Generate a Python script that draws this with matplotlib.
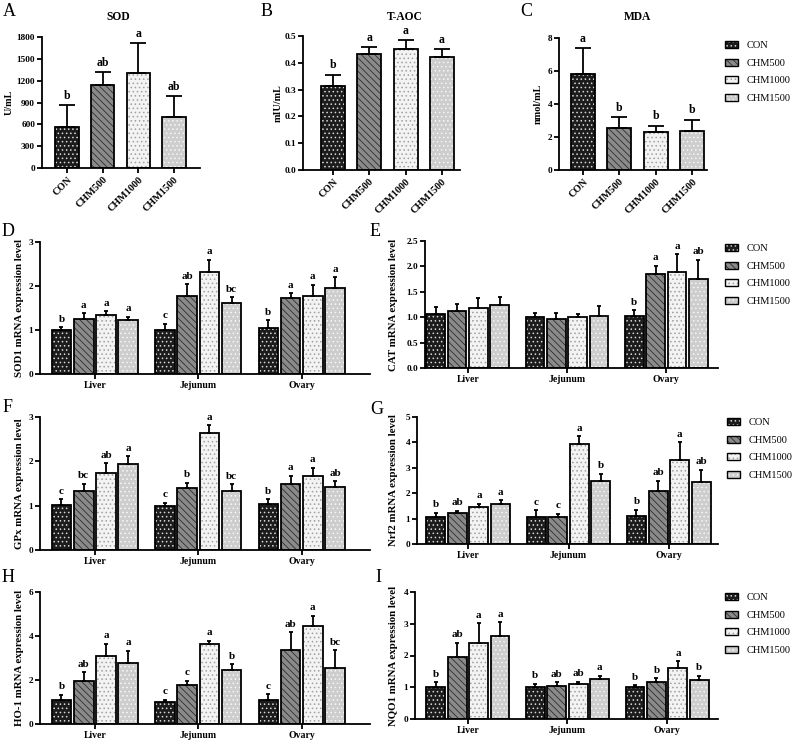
import numpy as np
import matplotlib
matplotlib.use("Agg")
import matplotlib.pyplot as plt
from matplotlib.patches import Patch
from matplotlib.legend_handler import HandlerTuple
from matplotlib.ticker import FormatStrFormatter

plt.rcParams['font.family'] = 'Liberation Serif'
plt.rcParams['font.weight'] = 'bold'
plt.rcParams['hatch.linewidth'] = 0.6

# Data =================================================
groups = ['CON', 'CHM500', 'CHM1000', 'CHM1500']
tissues = ['Liver', 'Jejunum', 'Ovary']

# serum indices (mean, SD)
sod_mean = [570, 1145, 1305, 705]
sod_sd = [290, 172, 410, 282]
sod_let = ['b', 'ab', 'a', 'ab']

taoc_mean = [0.312, 0.432, 0.450, 0.422]
taoc_sd = [0.044, 0.027, 0.035, 0.029]
taoc_let = ['b', 'a', 'a', 'a']

mda_mean = [5.83, 2.53, 2.29, 2.35]
mda_sd = [1.56, 0.67, 0.38, 0.69]
mda_let = ['a', 'b', 'b', 'b']

# mRNA levels, rows = Liver, Jejunum, Ovary
sod1_mean = [[1.00, 1.25, 1.33, 1.23], [1.01, 1.78, 2.31, 1.61], [1.05, 1.73, 1.78, 1.96]]
sod1_sd = [[0.06, 0.13, 0.10, 0.07], [0.13, 0.26, 0.29, 0.14], [0.17, 0.10, 0.25, 0.24]]
sod1_let = [['b', 'a', 'a', 'a'], ['c', 'ab', 'a', 'bc'], ['b', 'a', 'a', 'a']]

cat_mean = [[1.07, 1.13, 1.18, 1.24], [1.01, 0.96, 0.995, 1.03], [1.02, 1.86, 1.88, 1.75]]
cat_sd = [[0.14, 0.13, 0.19, 0.15], [0.08, 0.12, 0.075, 0.20], [0.12, 0.15, 0.36, 0.38]]
cat_let = [['', '', '', ''], ['', '', '', ''], ['b', 'a', 'a', 'ab']]

gpx_mean = [[1.025, 1.33, 1.73, 1.93], [0.995, 1.39, 2.64, 1.32], [1.04, 1.50, 1.67, 1.41]]
gpx_sd = [[0.12, 0.16, 0.23, 0.18], [0.075, 0.13, 0.17, 0.16], [0.105, 0.17, 0.19, 0.14]]
gpx_let = [['c', 'bc', 'ab', 'a'], ['c', 'b', 'a', 'bc'], ['b', 'a', 'a', 'ab']]

nrf2_mean = [[1.07, 1.22, 1.44, 1.57], [1.07, 1.05, 3.94, 2.50], [1.10, 2.09, 3.31, 2.46]]
nrf2_sd = [[0.16, 0.09, 0.14, 0.16], [0.25, 0.15, 0.31, 0.27], [0.24, 0.40, 0.70, 0.46]]
nrf2_let = [['b', 'ab', 'a', 'a'], ['c', 'c', 'a', 'b'], ['b', 'ab', 'a', 'ab']]

ho1_mean = [[1.08, 1.97, 3.08, 2.76], [1.00, 1.76, 3.64, 2.44], [1.08, 3.35, 4.47, 2.53]]
ho1_sd = [[0.25, 0.38, 0.57, 0.57], [0.11, 0.21, 0.15, 0.27], [0.28, 0.82, 0.45, 0.82]]
ho1_let = [['b', 'ab', 'a', 'a'], ['c', 'c', 'a', 'b'], ['c', 'ab', 'a', 'bc']]

nqo1_mean = [[1.02, 1.95, 2.39, 2.60], [1.01, 1.05, 1.09, 1.25], [1.00, 1.18, 1.62, 1.22]]
nqo1_sd = [[0.13, 0.45, 0.63, 0.45], [0.10, 0.10, 0.09, 0.12], [0.07, 0.10, 0.20, 0.15]]
nqo1_let = [['b', 'ab', 'a', 'a'], ['b', 'ab', 'ab', 'a'], ['b', 'b', 'a', 'b']]

# Styles ===============================================
fills = ['#1c1c1c', '#8a8a8a', '#f3f3f3', '#cdcdcd']
hatch_cols = ['#d8d8d8', '#2e2e2e', '#a0a0a0', '#f6f6f6']
hatches = ['....', '\\\\\\\\\\', '....', '....']
LW = 1.3

W, H = 795, 745
fig = plt.figure(figsize=(W / 100, H / 100), dpi=100)


def px_axes(l, t, r, b):
    return fig.add_axes([l / W, 1 - b / H, (r - l) / W, (b - t) / H])


def style(ax, ylim, ticks, fmt, ylabel, lab_right, l, r, ylab_size):
    for s in ['top', 'right']:
        ax.spines[s].set_visible(False)
    for s in ['left', 'bottom']:
        ax.spines[s].set_linewidth(LW)
    ax.set_ylim(*ylim)
    ax.set_yticks(ticks)
    ax.yaxis.set_major_formatter(FormatStrFormatter(fmt))
    ax.tick_params(width=LW, length=3.5, pad=1.5)
    ax.tick_params(axis='y', labelsize=6.7)
    ax.set_ylabel(ylabel, fontsize=ylab_size, fontweight='bold')
    ax.yaxis.set_label_coords((lab_right - l) / (r - l), 0.5)


def bars(ax, x, means, sds, i, width, lets, fs):
    means = np.asarray(means)
    sds = np.asarray(sds)
    ax.bar(x, means, width, color=fills[i], hatch=hatches[i], edgecolor=hatch_cols[i],
           linewidth=0, zorder=2)
    ax.bar(x, means, width, fill=False, edgecolor='black', linewidth=LW, zorder=3)
    ax.errorbar(x, means, yerr=[np.zeros_like(sds), sds], fmt='none', ecolor='black',
                elinewidth=LW, capsize=width * 9, capthick=LW, zorder=3)
    for xi, m, s, t in zip(np.atleast_1d(x), means, sds, lets):
        if t:
            ax.annotate(t, (xi, m + s), xytext=(0, 2.5), textcoords='offset points',
                        ha='center', va='bottom', fontsize=fs, fontweight='bold')


# Top row: serum indices ===============================
top_panels = [
    ('A', 'SOD', 'U/mL', sod_mean, sod_sd, sod_let, (0, 1800), np.arange(0, 1801, 300), '%d',
     (42, 37, 200, 168), (-0.70, 3.73), 14, 9, 118),
    ('B', 'T-AOC', 'mIU/mL', taoc_mean, taoc_sd, taoc_let, (0, 0.5), np.arange(0, 0.51, 0.1), '%.1f',
     (303, 36, 460, 170), (-0.83, 3.5), 283, 267, 405),
    ('C', 'MDA', 'nmol/mL', mda_mean, mda_sd, mda_let, (0, 8), np.arange(0, 9, 2), '%d',
     (559, 38, 707, 170), (-0.66, 3.41), 543, 526, 637),
]

for letter, title, ylab, mean, sd, lets, ylim, ticks, fmt, box, xlim, labr, lx, tx in top_panels:
    l, t, r, b = box
    ax = px_axes(l, t, r, b)
    x = np.arange(len(groups))
    for i in range(len(groups)):
        bars(ax, x[i:i + 1], mean[i:i + 1], sd[i:i + 1], i, 0.66, lets[i:i + 1], 8.5)
    ax.set_xlim(*xlim)
    ax.set_xticks(x)
    ax.set_xticklabels(groups, rotation=45, ha='right', rotation_mode='anchor', fontsize=7.3)
    style(ax, ylim, ticks, fmt, ylab, labr, l, r, 7.3)
    fig.text(lx / W, 1 - 12 / H, letter, fontsize=13, fontweight='normal', ha='center', va='center')
    fig.text(tx / W, 1 - 17 / H, title, fontsize=8.3, fontweight='bold', ha='center', va='center')
    if letter == 'C':
        leg_ax = ax

# Gene panels ==========================================
gene_panels = [
    ('D', 'SOD1 mRNA expression level', sod1_mean, sod1_sd, sod1_let, (0, 3), np.arange(0, 4), '%d',
     (40, 242, 370, 374), (-0.53, 2.66), 24, (8, 231)),
    ('E', 'CAT mRNA expression level', cat_mean, cat_sd, cat_let, (0, 2.5), np.arange(0, 2.51, 0.5), '%.1f',
     (425, 241, 718, 368), (-0.43, 2.52), 398, (375, 231)),
    ('F', 'GPx mRNA expression level', gpx_mean, gpx_sd, gpx_let, (0, 3), np.arange(0, 4), '%d',
     (40, 417, 370, 550), (-0.53, 2.66), 24, (8, 408)),
    ('G', 'Nrf2 mRNA expression level', nrf2_mean, nrf2_sd, nrf2_let, (0, 5), np.arange(0, 6), '%d',
     (417, 417, 718, 544), (-0.51, 2.49), 398, (377, 409)),
    ('H', 'HO-1 mRNA expression level', ho1_mean, ho1_sd, ho1_let, (0, 6), np.arange(0, 7, 2), '%d',
     (40, 592, 370, 724), (-0.53, 2.66), 24, (8, 577)),
    ('I', 'NQO1 mRNA expression level', nqo1_mean, nqo1_sd, nqo1_let, (0, 4), np.arange(0, 5), '%d',
     (415, 592, 718, 719), (-0.53, 2.51), 398, (378, 577)),
]

offsets = (np.arange(len(groups)) - 1.5) * 0.215
legend_axes = {}
for letter, ylab, mean, sd, lets, ylim, ticks, fmt, box, xlim, labr, lpos in gene_panels:
    l, t, r, b = box
    ax = px_axes(l, t, r, b)
    xt = np.arange(len(tissues))
    mean = np.asarray(mean)
    sd = np.asarray(sd)
    lets = np.asarray(lets)
    for i in range(len(groups)):
        bars(ax, xt + offsets[i], mean[:, i], sd[:, i], i, 0.19, lets[:, i], 8)
    ax.set_xlim(*xlim)
    ax.set_xticks(xt)
    ax.set_xticklabels(tissues, fontsize=7)
    style(ax, ylim, ticks, fmt, ylab, labr, l, r, 7.8)
    fig.text(lpos[0] / W, 1 - lpos[1] / H, letter, fontsize=13, fontweight='normal',
             ha='center', va='center')
    legend_axes[letter] = ax

# Legends ==============================================
handles = []
for i in range(len(groups)):
    handles.append((Patch(facecolor=fills[i], hatch=hatches[i], edgecolor=hatch_cols[i], linewidth=0),
                    Patch(fill=False, edgecolor='black', linewidth=1.0)))

legend_spots = [(leg_ax, 725, 41), (legend_axes['E'], 725, 244), (legend_axes['G'], 727, 418),
                (legend_axes['I'], 725, 593)]
for ax, lx, ly in legend_spots:
    ax.legend(handles, groups, loc='upper left', bbox_to_anchor=(lx / W, 1 - ly / H),
              bbox_transform=fig.transFigure, frameon=False, borderpad=0, borderaxespad=0,
              handlelength=1.2, handleheight=0.65, handletextpad=0.85, labelspacing=0.82,
              prop={'size': 7.5, 'weight': 'normal'},
              handler_map={tuple: HandlerTuple(ndivide=1)})

fig.savefig('out.png', dpi=100)
